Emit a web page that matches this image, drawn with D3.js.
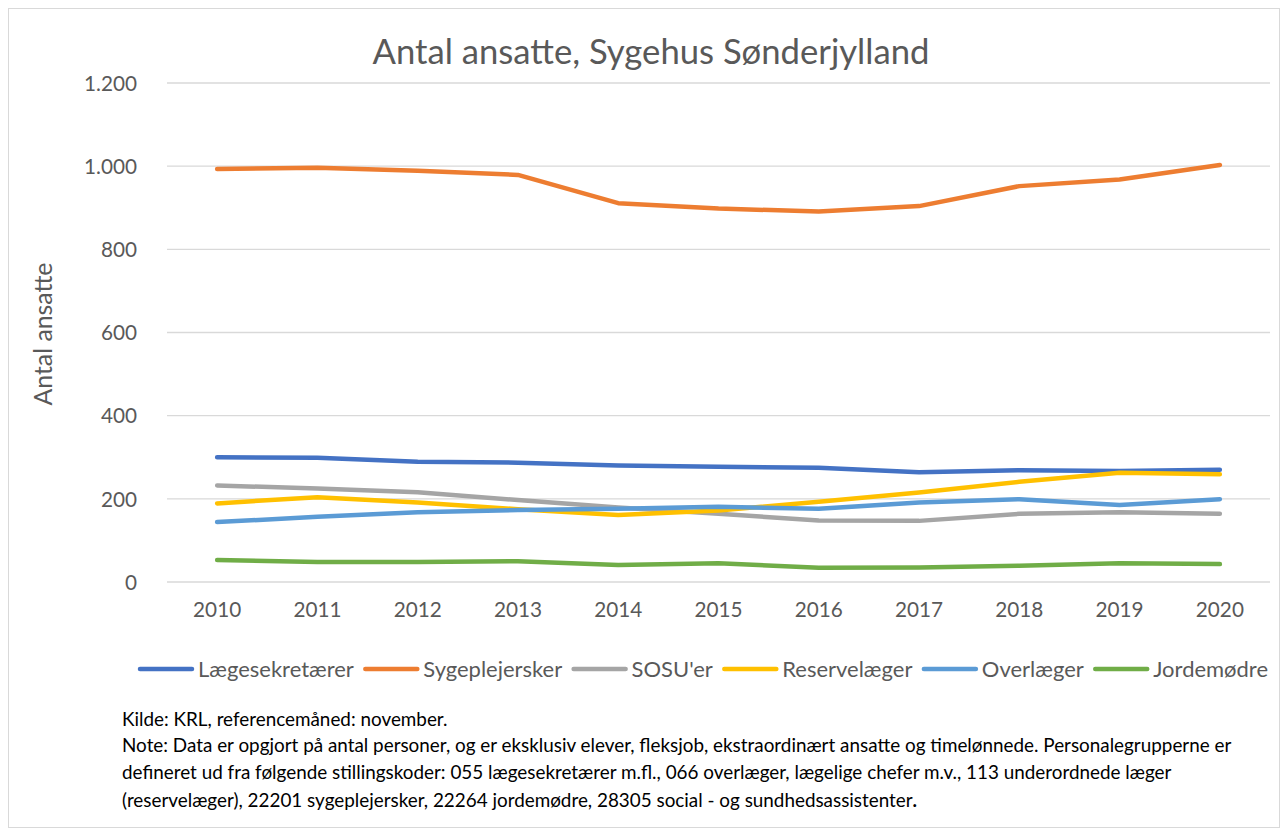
<!DOCTYPE html>
<html><head><meta charset="utf-8">
<script src="https://cdn.jsdelivr.net/npm/d3@7"></script>
<style>body{margin:0;background:#fff}svg{display:block}</style>
</head><body><svg id="c" width="1287" height="834"></svg>
<script>
const years = ["2010","2011","2012","2013","2014","2015","2016","2017","2018","2019","2020"];
const seriesNames = ["Lægesekretærer","Sygeplejersker","SOSU'er","Reservelæger","Overlæger","Jordemødre"];
const laegesekretaerer = [300,299,289,287,280,277,275,264,269,267,270];
const sygeplejersker = [993,996,989,979,911,898,891,904,952,968,1003];
const sosuer = [232,225,216,197,179,164,148,147,164,168,164];
const reservelaeger = [189,204,191,175,161,172,193,215,241,263,259];
const overlaeger = [144,157,168,173,176,181,176,191,199,185,199];
const jordemoedre = [53,48,48,50,41,45,34,35,39,45,43];
const yTicks = [0,200,400,600,800,1000,1200];
const colors = ["#4472C4","#ED7D31","#A5A5A5","#FFC000","#5B9BD5","#70AD47"];
const allSeries = [laegesekretaerer,sygeplejersker,sosuer,reservelaeger,overlaeger,jordemoedre];
const noteLines = [
 "Kilde: KRL, referencemåned: november.",
 "Note: Data er opgjort på antal personer, og er eksklusiv elever, fleksjob, ekstraordinært ansatte og timelønnede. Personalegrupperne er",
 "defineret ud fra følgende stillingskoder: 055 lægesekretærer m.fl., 066 overlæger, lægelige chefer m.v., 113 underordnede læger",
 "(reservelæger), 22201 sygeplejersker, 22264 jordemødre, 28305 social - og sundhedsassistenter"
];
const font = "Lato, 'Liberation Sans', sans-serif";
const svg = d3.select("#c");
svg.append("rect").attr("x",8.5).attr("y",8.5).attr("width",1271).attr("height",819)
  .attr("fill","#fff").attr("stroke","#D9D9D9");

function fitSize(txt, target){
  const t = svg.append("text").attr("font-family",font).attr("font-size",100).text(txt);
  const w = t.node().getComputedTextLength(); t.remove();
  return 100*target/w;
}

const x = d3.scaleBand().domain(years).range([167,1270]);
const y = d3.scaleLinear().domain([0,1200]).range([582,83]);

svg.append("g").selectAll("line").data(yTicks).join("line")
  .attr("x1",167).attr("x2",1270).attr("y1",d=>y(d)).attr("y2",d=>y(d))
  .attr("stroke","#D9D9D9").attr("stroke-width",1.3);

const tickSize = fitSize("1.200", 53);
const fmt = d => d3.format(",")(d).replace(/,/g,".");
const yAxis = svg.append("g").attr("transform","translate(137,0)")
  .call(d3.axisLeft(y).tickValues(yTicks).tickFormat(fmt).tickSize(0).tickPadding(0));
yAxis.select(".domain").remove();
yAxis.selectAll("text").attr("font-family",font).attr("font-size",tickSize).attr("fill","#595959").attr("dy","0.35em");

const xAxis = svg.append("g").attr("transform","translate(0,582)")
  .call(d3.axisBottom(x).tickSize(0).tickPadding(20));
xAxis.select(".domain").remove();
xAxis.selectAll("text").attr("font-family",font).attr("font-size",tickSize).attr("fill","#595959");

const line = d3.line().x((d,i)=>x(years[i])+x.bandwidth()/2).y(d=>y(d));
svg.append("g").selectAll("path").data(allSeries).join("path")
  .attr("d",line).attr("fill","none").attr("stroke",(d,i)=>colors[i])
  .attr("stroke-width",4.5).attr("stroke-linecap","round").attr("stroke-linejoin","round");

const title = "Antal ansatte, Sygehus Sønderjylland";
svg.append("text").attr("x",651).attr("y",64).attr("text-anchor","middle")
  .attr("font-family",font).attr("font-size",fitSize(title,557)).attr("fill","#595959")
  .text(title);

svg.append("text").attr("transform","translate(52,334) rotate(-90)").attr("text-anchor","middle")
  .attr("font-family",font).attr("font-size",fitSize("Antal ansatte",143)).attr("fill","#595959").text("Antal ansatte");

const legSize = fitSize("Lægesekretærer",156);
const lg = svg.append("g");
const items = lg.selectAll("g").data(seriesNames).join("g");
items.append("line").attr("x1",0).attr("x2",52).attr("y1",0).attr("y2",0)
  .attr("stroke",(d,i)=>colors[i]).attr("stroke-width",4.5).attr("stroke-linecap","round");
items.append("text").attr("x",58).attr("y",0).attr("dy","0.35em").attr("font-family",font)
  .attr("font-size",legSize).attr("fill","#595959").text(d=>d);
let widths = [];
items.each(function(){ widths.push(58 + d3.select(this).select("text").node().getComputedTextLength()); });
const totalW = 1268-140;
const gap = (totalW - d3.sum(widths))/(widths.length-1);
let cx = 140;
items.attr("transform",(d,i)=>{ const t = `translate(${cx},669)`; cx += widths[i]+gap; return t; });

const noteSize = fitSize(noteLines[1], 1110);
const ny = [726,752,779,807];
const notes = svg.append("g").selectAll("text").data(noteLines).join("text")
  .attr("x",122).attr("y",(d,i)=>ny[i]).attr("font-family",font).attr("font-size",noteSize)
  .attr("fill","#000").text(d=>d);
notes.filter((d,i)=>i===3).append("tspan").attr("font-weight","bold").text(".");
</script></body></html>
